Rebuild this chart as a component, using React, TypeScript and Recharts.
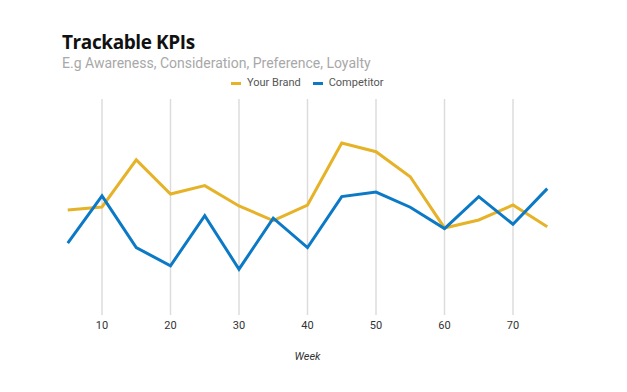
import React from "react";
import { CartesianGrid, Line, LineChart, XAxis, YAxis } from "recharts";

const weeks = [5, 10, 15, 20, 25, 30, 35, 40, 45, 50, 55, 60, 65, 70, 75];
const yourBrand = [48.6, 50, 71.8, 56, 59.9, 50.5, 43.7, 50.9, 79.6, 75.6, 64, 40.3, 44, 50.9, 40.9];
const competitor = [33.3, 55.1, 31.2, 22.8, 46, 21.2, 44.8, 31.2, 54.8, 56.9, 49.9, 40, 54.8, 42, 58.5];
const weekTicks = [10, 20, 30, 40, 50, 60, 70];

const BRAND = "#E5B228";
const COMP = "#0B79C6";

const data = weeks.map((w, i) => ({ week: w, brand: yourBrand[i], comp: competitor[i] }));

const legendItems = [
  { label: "Your Brand", color: BRAND },
  { label: "Competitor", color: COMP },
];

function KpiLegend() {
  return (
    <div
      style={{
        position: "absolute",
        left: 231,
        top: 76,
        display: "flex",
        alignItems: "center",
        fontFamily: "Roboto",
        fontSize: 11,
        lineHeight: "14px",
        color: "#555",
      }}
    >
      {legendItems.map((it) => (
        <div key={it.label} style={{ display: "flex", alignItems: "center", marginRight: 12 }}>
          <span style={{ width: 10, height: 3, background: it.color, marginRight: 6, display: "inline-block" }} />
          {it.label}
        </div>
      ))}
    </div>
  );
}

// grid only at the labelled ticks, not at the domain edges
const gridX = (props: any) => {
  const { xAxis, offset } = props;
  if (xAxis && typeof xAxis.scale === "function") return weekTicks.map((t) => xAxis.scale(t));
  return weekTicks.map((t) => offset.left + ((t - 5) / 70) * offset.width);
};

export default function App() {
  return (
    <div style={{ position: "absolute", left: 0, top: 0, width: 627, height: 392, background: "#fff" }}>
      <div
        style={{
          position: "absolute",
          left: 62,
          top: 31,
          fontFamily: "'Open Sans'",
          fontWeight: 700,
          fontSize: 19,
          color: "#111",
          letterSpacing: -0.4,
          lineHeight: "22px",
        }}
      >
        Trackable KPIs
      </div>
      <div
        style={{
          position: "absolute",
          left: 62,
          top: 55,
          fontFamily: "Roboto",
          fontSize: 14,
          color: "#a8a8a8",
          lineHeight: "16px",
        }}
      >
        E.g Awareness, Consideration, Preference, Loyalty
      </div>
      <KpiLegend />
      <LineChart width={627} height={392} data={data} margin={{ top: 99, right: 79.75, bottom: 27, left: 67.75 }}>
        <CartesianGrid horizontal={false} stroke="#dcdcdc" strokeWidth={1.5} verticalCoordinatesGenerator={gridX} />
        <XAxis
          dataKey="week"
          type="number"
          domain={[5, 75]}
          ticks={weekTicks}
          axisLine={false}
          tickLine={false}
          tickMargin={0}
          height={50}
          tick={{ fontFamily: "Roboto", fontSize: 11, fill: "#333" }}
          label={{ value: "Week", position: "insideBottom", offset: 5, style: { fontFamily: "Roboto", fontSize: 11, fontStyle: "italic", fill: "#333" } }}
        />
        <YAxis hide domain={[0, 100]} />
        <Line dataKey="brand" name="Your Brand" stroke={BRAND} strokeWidth={3} dot={false} isAnimationActive={false} strokeLinejoin="miter" />
        <Line dataKey="comp" name="Competitor" stroke={COMP} strokeWidth={3} dot={false} isAnimationActive={false} strokeLinejoin="miter" />
      </LineChart>
    </div>
  );
}
